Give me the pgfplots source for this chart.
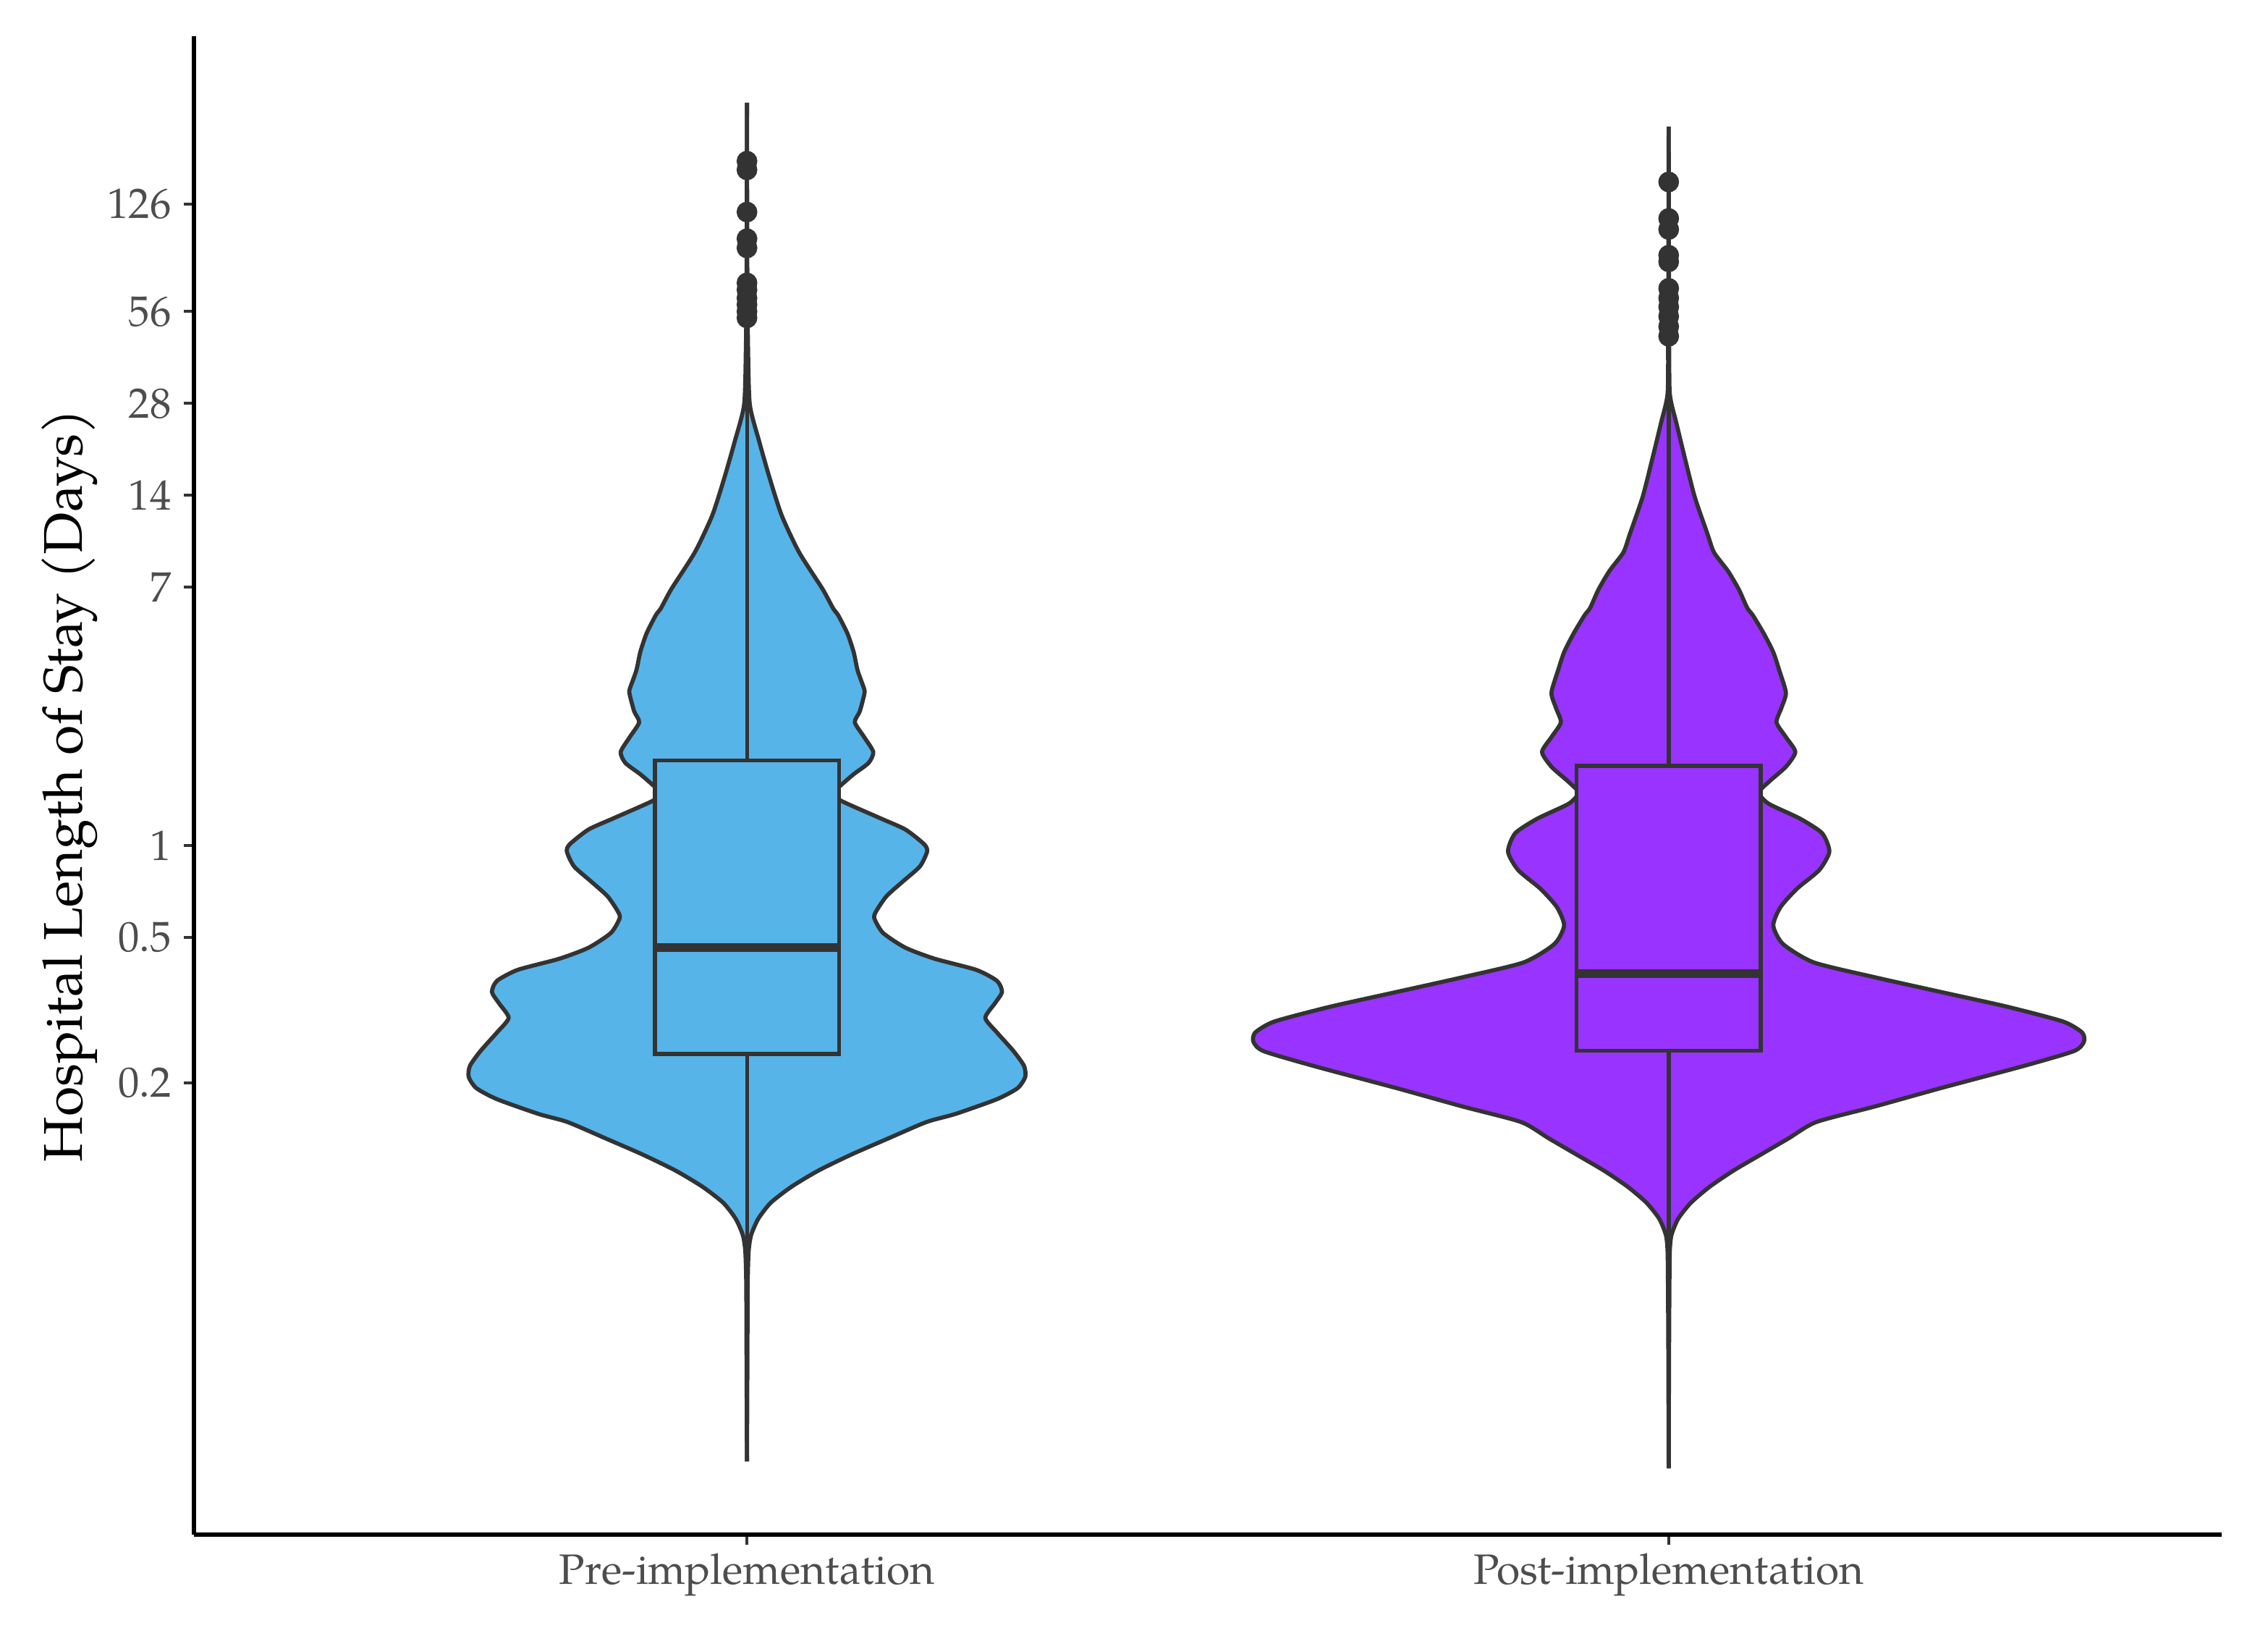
\documentclass[border=0pt]{standalone}
\usepackage{pgfplots}
\usepackage{pgfplotstable}
\usepackage{fontspec}
\setmainfont{TeX Gyre Pagella}
\pgfplotsset{compat=1.18}
\usepgfplotslibrary{fillbetween}
\definecolor{preblue}{HTML}{56B4E9}
\definecolor{postpurple}{HTML}{9933FF}
\definecolor{dk}{HTML}{333333}
\definecolor{lab}{HTML}{4D4D4D}

% violin outlines: y = length of stay (days), w = half width (x units)
\pgfplotstableread{
y w
0.00962 0
0.0221 0.0005
0.0368 0.0008
0.0469 0.0018
0.0530 0.0045
0.0599 0.0122
0.0676 0.0257
0.0763 0.0482
0.0862 0.0775
0.0974 0.1136
0.1100 0.1538
0.1243 0.1947
0.1321 0.2261
0.1477 0.2713
0.1605 0.2936
0.1746 0.3019
0.1898 0.3006
0.2122 0.2892
0.2440 0.2713
0.2726 0.2586
0.3048 0.2692
0.3313 0.2767
0.3602 0.2713
0.3915 0.2488
0.4257 0.2037
0.4627 0.1719
0.5173 0.1476
0.5783 0.1381
0.6113 0.1405
0.6830 0.1515
0.7641 0.1695
0.8538 0.1876
0.9546 0.1954
1.009 0.1923
1.128 0.1719
1.226 0.1452
1.390 0.1044
1.474 0.0920
1.576 0.1020
1.712 0.1158
1.863 0.1319
2.024 0.1370
2.263 0.1272
2.530 0.1170
2.749 0.1224
3.117 0.1272
3.252 0.1272
3.737 0.1201
4.293 0.1158
4.935 0.1091
5.672 0.0990
5.980 0.0934
6.916 0.0820
9.126 0.0565
12.04 0.0377
15.89 0.0248
21.02 0.0133
27.76 0.0031
42.2 0.0012
73.5 0.0004
270.6 0
}\pretab

\pgfplotstableread{
y w
0.00914 0
0.0221 0.0004
0.0368 0.0008
0.0469 0.0012
0.0530 0.0030
0.0599 0.0102
0.0676 0.0240
0.0763 0.0444
0.0862 0.0703
0.0974 0.1003
0.1100 0.1303
0.1243 0.1601
0.1397 0.2234
0.1605 0.2951
0.1898 0.3854
0.2122 0.4396
0.2275 0.4505
0.2440 0.4486
0.2652 0.4278
0.2965 0.3673
0.3313 0.2954
0.3704 0.2234
0.4141 0.1574
0.4757 0.1240
0.5468 0.1135
0.6285 0.1213
0.7225 0.1393
0.8305 0.1633
0.9546 0.1743
1.0973 0.1664
1.226 0.1421
1.371 0.1083
1.491 0.0980
1.620 0.1091
1.811 0.1272
2.024 0.1374
2.263 0.1272
2.530 0.1170
2.826 0.1224
3.162 0.1272
3.737 0.1201
4.293 0.1135
4.935 0.1033
5.672 0.0913
5.996 0.0852
6.892 0.0761
7.923 0.0643
9.107 0.0492
10.47 0.0421
13.83 0.0283
18.27 0.0181
24.13 0.0084
30.15 0.0012
45.3 0.0006
73.5 0.0003
225.9 0
}\posttab

\begin{document}
\begin{tikzpicture}
\begin{axis}[
  set layers,
  width=420.3pt, height=310.5pt, scale only axis,
  xmin=0.4, xmax=2.6,
  ymode=log, ymin=0.00554, ymax=446.6,
  axis lines=left,
  axis line style={-, line width=1pt, black},
  xtick={1,2},
  xticklabels={Pre-implementation,Post-implementation},
  ytick={0.166667,0.5,1,7,14,28,56,126},
  yticklabels={0.2,0.5,1,7,14,28,56,126},
  yminorticks=false, xminorticks=false,
  tick align=outside,
  major tick length=2.1pt,
  tick style={dk, line width=0.6pt},
  ticklabel style={font=\fontsize{8.8}{10}\selectfont, text=lab},
  xticklabel style={yshift=1.8pt},
  yticklabel style={xshift=0.9pt},
  /pgf/number format/assume math mode=true,
  ylabel={Hospital Length of Stay (Days)},
  ylabel style={font=\fontsize{11.3}{13}\selectfont, text=black,
    at={(axis description cs:-0.0615,0.5)}, anchor=center},
]
% Pre-implementation violin
\addplot[name path=preR, draw=dk, line width=0.85pt, smooth, tension=0.4]
  table[x expr=1+\thisrow{w}, y=y] {\pretab};
\addplot[name path=preL, draw=dk, line width=0.85pt, smooth, tension=0.4]
  table[x expr=1-\thisrow{w}, y=y] {\pretab};
\addplot[preblue] fill between[of=preR and preL];
% Post-implementation violin
\addplot[name path=postR, draw=dk, line width=0.85pt, smooth, tension=0.4]
  table[x expr=2+\thisrow{w}, y=y] {\posttab};
\addplot[name path=postL, draw=dk, line width=0.85pt, smooth, tension=0.4]
  table[x expr=2-\thisrow{w}, y=y] {\posttab};
\addplot[postpurple] fill between[of=postR and postL];

% whiskers
\addplot[dk, line width=0.8pt] coordinates {(1,0.00962) (1,0.2075)};
\addplot[dk, line width=0.8pt] coordinates {(1,1.90) (1,52.5)};
\addplot[dk, line width=0.8pt] coordinates {(2,0.00914) (2,0.213)};
\addplot[dk, line width=0.8pt] coordinates {(2,1.82) (2,45.0)};
% boxes
\addplot[draw=dk, line width=0.85pt, fill=preblue] coordinates {(0.9,0.2075) (1.1,0.2075) (1.1,1.90) (0.9,1.90)} -- cycle;
\addplot[draw=dk, line width=0.85pt, fill=postpurple] coordinates {(1.9,0.213) (2.1,0.213) (2.1,1.82) (1.9,1.82)} -- cycle;
% medians
\addplot[dk, line width=1.75pt] coordinates {(0.9,0.463) (1.1,0.463)};
\addplot[dk, line width=1.75pt] coordinates {(1.9,0.381) (2.1,0.381)};
% outliers
\addplot[only marks, mark=*, mark size=1.95pt, dk, mark options={fill=dk, draw=dk}]
  coordinates {(1,53.4) (1,56) (1,59) (1,62) (1,66) (1,69.5) (1,90.5) (1,97) (1,118.6) (1,163) (1,174)};
\addplot[only marks, mark=*, mark size=1.95pt, dk, mark options={fill=dk, draw=dk}]
  coordinates {(2,46.5) (2,50) (2,54) (2,58) (2,62) (2,66.7) (2,81.5) (2,85.6) (2,104) (2,113) (2,148.8)};
\end{axis}
\path[use as bounding box] ([shift={(-40.2pt,-19.2pt)}]current axis.south west) rectangle ([shift={(429.9pt,318pt)}]current axis.south west);
\end{tikzpicture}
\end{document}
